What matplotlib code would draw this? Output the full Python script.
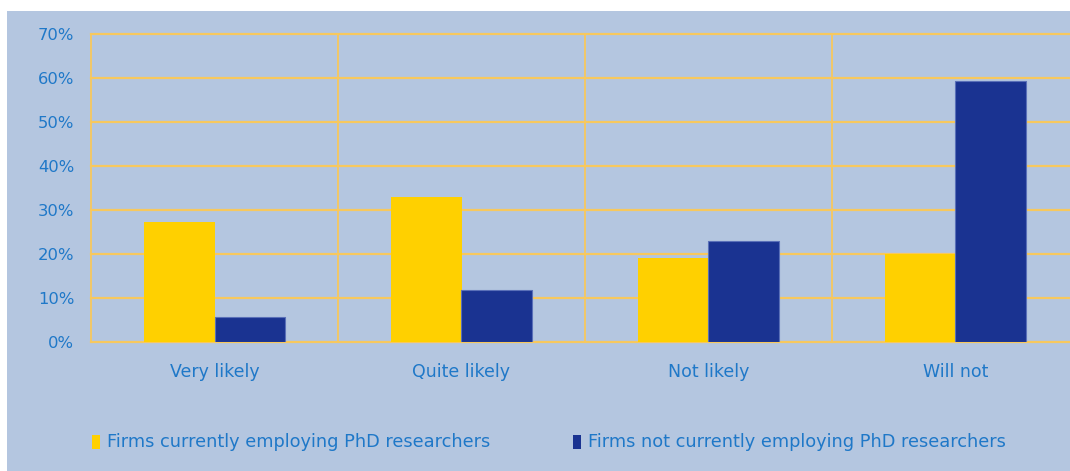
import matplotlib.pyplot as plt
import numpy as np
from matplotlib.patches import Rectangle

categories = ['Very likely', 'Quite likely', 'Not likely', 'Will not']
employing = [27.3, 33.0, 19.2, 20.0]
not_employing = [5.7, 11.8, 23.0, 59.3]
series_names = ['Firms currently employing PhD researchers',
                'Firms not currently employing PhD researchers']
yticks = [0, 10, 20, 30, 40, 50, 60, 70]

bg = '#b4c6e0'
grid_col = '#f7c85e'
text_col = '#1f78c8'
yellow = '#ffd000'
blue = '#1a3391'

W, H = 1070, 471
fig = plt.figure(figsize=(W / 100, H / 100), dpi=100)
fig.patch.set_facecolor('white')
# light blue panel behind everything
fig.patches.append(Rectangle((7 / W, 0), 1, (H - 11) / H, transform=fig.transFigure,
                             facecolor=bg, edgecolor='none', zorder=-5))

# plot area: left at x=91, each category 247 px wide, runs off the right edge
ax = fig.add_axes([91 / W, (H - 342) / H, (4 * 247) / W, (342 - 34) / H])
ax.set_zorder(2)
ax.set_facecolor(bg)

x = np.arange(len(categories))
bw = 0.285
ax.bar(x - bw / 2, employing, bw, color=yellow, edgecolor='none', zorder=3)
ax.bar(x + bw / 2, not_employing, bw, color=blue, edgecolor='#5a70b8', linewidth=0.8, zorder=3)

ax.set_xlim(-0.5, len(categories) - 0.5)
ax.set_ylim(0, 70)
ax.set_yticks(yticks)
ax.set_yticklabels([f'{t}%' for t in yticks], color=text_col, fontsize=11.8)
ax.set_xticks(x)
ax.set_xticklabels(categories, color=text_col, fontsize=12.5)
ax.tick_params(length=0)
ax.tick_params(axis='x', pad=15)
ax.tick_params(axis='y', pad=12)

for t in yticks:
    ax.axhline(t, color=grid_col, lw=1.6, zorder=1, clip_on=False)
for b in np.arange(len(categories)) - 0.5:
    ax.axvline(b, color=grid_col, lw=1.3, zorder=1, clip_on=False)
for s in ax.spines.values():
    s.set_visible(False)

# legend along the bottom
legend_x = [92, 573]
for lx, name, col in zip(legend_x, series_names, [yellow, blue]):
    fig.patches.append(Rectangle((lx / W, (H - 449) / H), 8 / W, 14 / H,
                                 transform=fig.transFigure, facecolor=col,
                                 edgecolor='none', zorder=3))
    fig.text((lx + 15) / W, (H - 442) / H, name, color=text_col, fontsize=12.8,
             va='center', ha='left', zorder=3)

fig.savefig('out.png', dpi=100, facecolor=fig.get_facecolor())
